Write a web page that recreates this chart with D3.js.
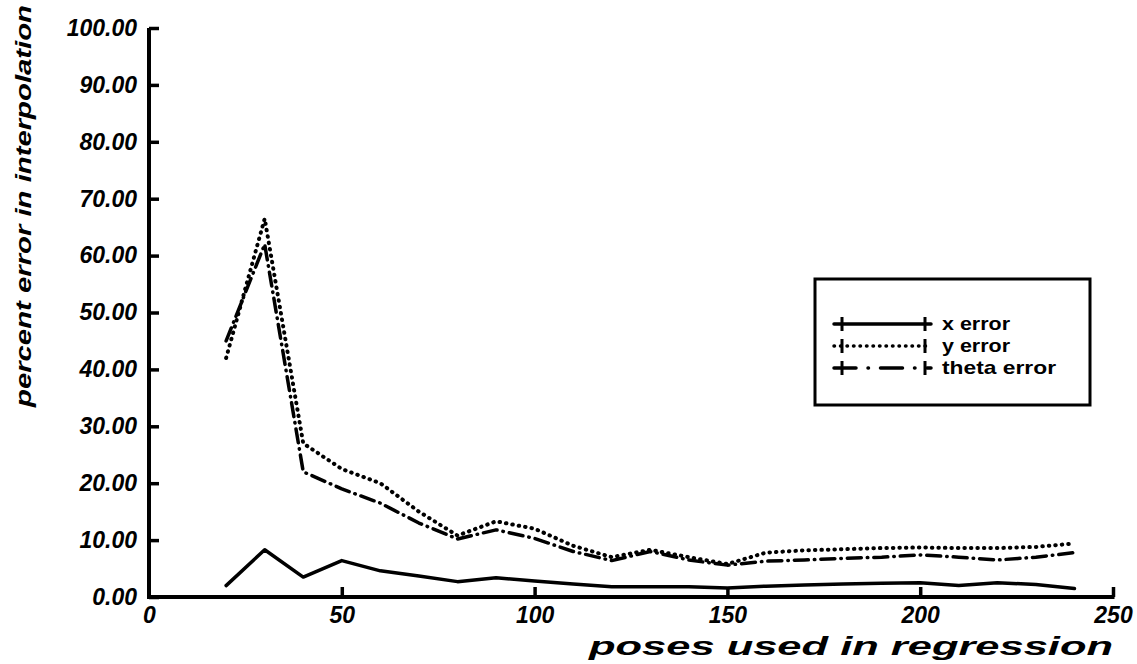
<!DOCTYPE html>
<html>
<head>
<meta charset="utf-8">
<script src="https://cdn.jsdelivr.net/npm/d3@7"></script>
<style>
  body { margin: 0; background: #fff; }
  svg { display: block; }
</style>
</head>
<body>
<div id="chart"></div>
<script>
// poses used in regression
const poses = [20, 30, 40, 50, 60, 70, 80, 90, 100, 110, 120, 130, 140, 150, 160, 170, 180, 190, 200, 210, 220, 230, 240];
const xError = [2.0, 8.3, 3.5, 6.4, 4.6, 3.7, 2.7, 3.4, 2.8, 2.3, 1.8, 1.8, 1.8, 1.6, 1.9, 2.1, 2.3, 2.4, 2.5, 2.0, 2.5, 2.2, 1.5];
const yError = [42.0, 66.5, 27.0, 22.5, 20.0, 15.0, 10.8, 13.3, 12.0, 9.0, 7.0, 8.3, 7.0, 5.8, 7.8, 8.2, 8.4, 8.6, 8.7, 8.6, 8.6, 8.8, 9.4];
const thetaError = [45.0, 62.0, 22.0, 19.0, 16.5, 13.0, 10.2, 11.8, 10.3, 8.0, 6.4, 8.0, 6.5, 5.6, 6.3, 6.5, 6.8, 7.0, 7.4, 7.0, 6.5, 7.0, 7.8];

const xTicks = [0, 50, 100, 150, 200, 250];
const yTicks = [0, 10, 20, 30, 40, 50, 60, 70, 80, 90, 100];
const seriesNames = ["x error", "y error", "theta error"];

const width = 1137, height = 664;
const margin = {top: 28, right: 24, bottom: 67, left: 149};

const svg = d3.select("#chart").append("svg")
  .attr("width", width).attr("height", height);

const x = d3.scaleLinear().domain([0, 250]).range([margin.left, width - margin.right]);
const y = d3.scaleLinear().domain([0, 100]).range([height - margin.bottom, margin.top]);

const tickFont = "'Liberation Sans', Arial, Helvetica, sans-serif";

// y axis
const yAxis = svg.append("g")
  .attr("transform", "translate(" + x(0) + ",0)")
  .call(d3.axisLeft(y).tickValues(yTicks).tickSize(-10).tickPadding(12)
    .tickFormat(d => d3.format(".2f")(d)));
yAxis.select(".domain").style("stroke-width", "4px").attr("d", "M0," + y(100) + "V" + (y(0) + 2));
yAxis.selectAll(".tick line").style("stroke-width", "3.5px");
yAxis.selectAll(".tick text")
  .attr("font-family", tickFont).attr("font-size", 23)
  .attr("font-weight", "bold").attr("font-style", "italic").attr("fill", "#000");

// x axis
const xAxis = svg.append("g")
  .attr("transform", "translate(0," + y(0) + ")")
  .call(d3.axisBottom(x).tickValues(xTicks).tickSize(-10).tickPadding(10)
    .tickFormat(d3.format("d")));
xAxis.select(".domain").style("stroke-width", "4px").attr("d", "M" + (x(0) - 2) + ",0H" + (x(250) + 1.5));
xAxis.selectAll(".tick line").style("stroke-width", "3.5px").filter(d => d === 0).remove();
xAxis.selectAll(".tick text")
  .attr("font-family", tickFont).attr("font-size", 23)
  .attr("font-weight", "bold").attr("font-style", "italic").attr("fill", "#000");

// axis titles
svg.append("text")
  .attr("transform", "translate(31," + 206 + ") rotate(-90)")
  .attr("text-anchor", "middle")
  .attr("font-family", tickFont).attr("font-size", 22)
  .attr("font-weight", "bold").attr("font-style", "italic")
  .attr("textLength", 402).attr("lengthAdjust", "spacingAndGlyphs")
  .text("percent error in interpolation");

svg.append("text")
  .attr("x", x(250)).attr("y", 655)
  .attr("text-anchor", "end")
  .attr("font-family", tickFont).attr("font-size", 25)
  .attr("font-weight", "bold").attr("font-style", "italic")
  .attr("textLength", 524).attr("lengthAdjust", "spacingAndGlyphs")
  .text("poses used in regression");

// series
const styles = [
  {data: xError, dash: null, width: 3.5},
  {data: yError, dash: "0.5,6", width: 4},
  {data: thetaError, dash: "14,6,0.5,6", width: 3.5}
];

const line = d3.line()
  .x((d, i) => x(poses[i]))
  .y(d => y(d));

styles.forEach(s => {
  svg.append("path")
    .datum(s.data)
    .attr("fill", "none")
    .attr("stroke", "#000")
    .attr("stroke-width", s.width)
    .attr("stroke-linecap", "round")
    .attr("stroke-linejoin", "round")
    .attr("stroke-dasharray", s.dash)
    .attr("d", line);
});

// legend
const legend = svg.append("g");
legend.append("rect")
  .attr("x", 815).attr("y", 279).attr("width", 275).attr("height", 126)
  .attr("fill", "#fff").attr("stroke", "#000").attr("stroke-width", 3);

const rowY = [324, 346, 368];
const legendDash = [null, "0.5,6", "22,12,0.5,12"];
seriesNames.forEach((name, i) => {
  const g = legend.append("g").attr("transform", "translate(0," + rowY[i] + ")");
  g.append("line")
    .attr("x1", 834).attr("x2", 931).attr("y1", 0).attr("y2", 0)
    .attr("stroke", "#000").attr("stroke-width", 3.5)
    .attr("stroke-linecap", "round")
    .attr("stroke-dasharray", legendDash[i]);
  [842, 925].forEach(cx => {
    g.append("line")
      .attr("x1", cx).attr("x2", cx).attr("y1", -7).attr("y2", 7)
      .attr("stroke", "#000").attr("stroke-width", 3);
  });
  g.append("text")
    .attr("x", 942).attr("y", 6)
    .attr("font-family", tickFont).attr("font-size", 19)
    .attr("font-weight", "bold")
    .attr("textLength", [68, 68, 114][i]).attr("lengthAdjust", "spacingAndGlyphs")
    .text(name);
});
</script>
</body>
</html>
